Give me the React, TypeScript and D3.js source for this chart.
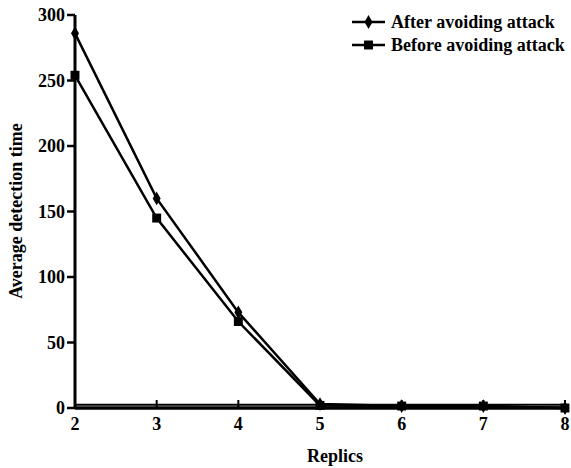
import React from 'react';
import * as d3 from 'd3';

const replics = [2, 3, 4, 5, 6, 7, 8];
const afterAvoiding = [286, 160, 73, 3, 1.5, 1.5, 0];
const beforeAvoiding = [254, 145, 66, 2, 1.5, 1.5, 0];
const yTicks = [0, 50, 100, 150, 200, 250, 300];
const xTicks = [2, 3, 4, 5, 6, 7, 8];
const baselineValue = 2.5;

const txt = { fontFamily: "'Liberation Serif'", fontWeight: 'bold', fontSize: 18 } as const;

const App = () => {
  const x = d3.scaleLinear().domain([2, 8]).range([75, 565]);
  const y = d3.scaleLinear().domain([0, 300]).range([408, 15]);

  const line = d3.line<number>()
    .x((d, i) => x(replics[i]))
    .y(d => y(d));

  const diamond = d3.symbol().type(d3.symbolDiamond).size(55)();
  const square = d3.symbol().type(d3.symbolSquare).size(80)();

  const series = [
    { name: 'After avoiding attack', values: afterAvoiding, marker: diamond },
    { name: 'Before avoiding attack', values: beforeAvoiding, marker: square },
  ];

  return (
    <svg width={571} height={468} style={{ position: 'absolute', left: 0, top: 0, background: '#fff' }}>
      {/* y axis */}
      <line x1={x(2)} x2={x(2)} y1={y(300)} y2={y(0)} stroke="#000" strokeWidth={3} />
      {yTicks.map(t => (
        <g key={t}>
          <line x1={x(2) - 8} x2={x(2)} y1={y(t)} y2={y(t)} stroke="#000" strokeWidth={2.5} />
          <text x={x(2) - 10} y={y(t)} dy="0.35em" textAnchor="end" style={txt}>{t}</text>
        </g>
      ))}
      {/* x axis */}
      <line x1={x(2)} x2={x(8) + 1} y1={y(0)} y2={y(0)} stroke="#000" strokeWidth={3.5} />
      <line x1={x(2)} x2={x(8)} y1={y(baselineValue)} y2={y(baselineValue)} stroke="#000" strokeWidth={2} />
      {xTicks.map(t => (
        <g key={t}>
          <line x1={x(t)} x2={x(t)} y1={y(0)} y2={y(0) - 8} stroke="#000" strokeWidth={2} />
          <text x={x(t)} y={y(0) + 22} textAnchor="middle" style={txt}>{t}</text>
        </g>
      ))}
      <text x={(x(2) + x(8)) / 2 + 15} y={462} textAnchor="middle" style={txt}>Replics</text>
      <text transform={`translate(22,211) rotate(-90)`} textAnchor="middle" style={txt}>
        Average detection time
      </text>

      {series.map(s => (
        <g key={s.name}>
          <path d={line(s.values) ?? ''} fill="none" stroke="#000" strokeWidth={2.5} />
          {s.values.map((v, i) => (
            <path key={i} d={s.marker ?? ''} transform={`translate(${x(replics[i])},${y(v)})`} fill="#000" />
          ))}
        </g>
      ))}

      {/* legend */}
      {series.map((s, i) => (
        <g key={s.name} transform={`translate(352,${22 + i * 23})`}>
          <line x1={0} x2={33} y1={0} y2={0} stroke="#000" strokeWidth={2.5} />
          <path d={s.marker ?? ''} transform="translate(16.5,0)" fill="#000" />
          <text x={39} y={0} dy="0.35em" style={txt}>{s.name}</text>
        </g>
      ))}
    </svg>
  );
};

export default App;
